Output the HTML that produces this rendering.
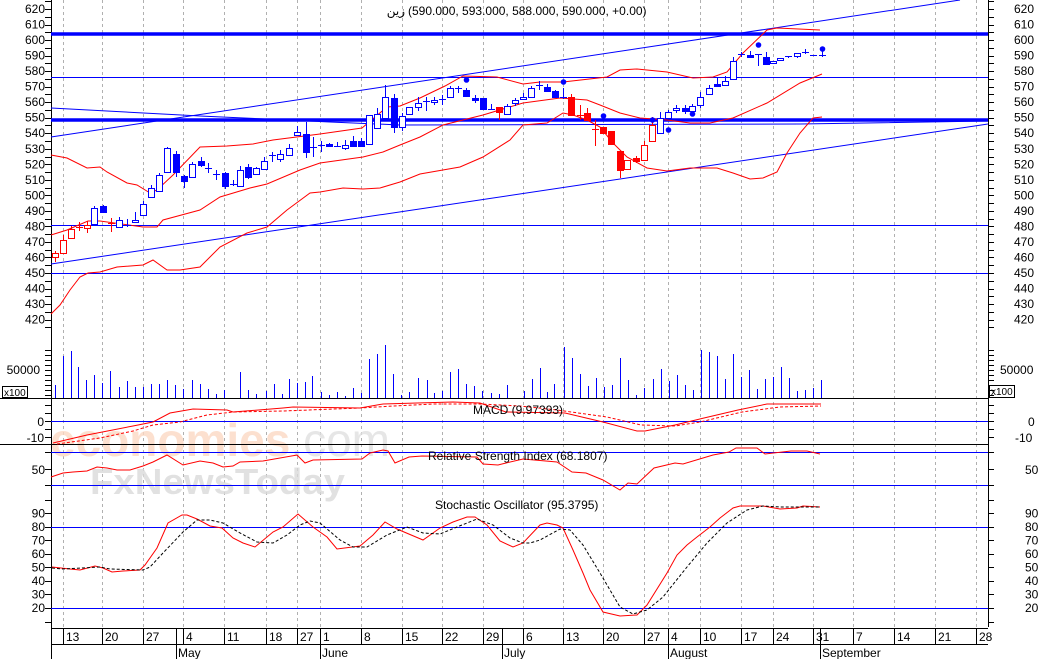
<!DOCTYPE html>
<html><head><meta charset="utf-8">
<style>
html,body{margin:0;padding:0;background:#fff;width:1040px;height:659px;overflow:hidden}
svg{display:block}
text{font-family:"Liberation Sans","DejaVu Sans",sans-serif;font-size:12px;fill:#000}
</style></head>
<body>
<svg id="c" width="1040" height="659" xmlns="http://www.w3.org/2000/svg">
<rect width="1040" height="659" fill="#fff"/>
<g id="grid"></g>
<!-- watermark -->
<text x="50" y="456" textLength="340" lengthAdjust="spacingAndGlyphs" style="font-size:46px;font-weight:bold;fill:#fcd9c4;opacity:0.8">economies<tspan style="fill:#e0e0e0;font-weight:normal">.com</tspan></text>
<text x="90" y="494" textLength="255" lengthAdjust="spacingAndGlyphs" style="font-size:36px;font-weight:bold;fill:#dadada;opacity:0.8">FxNewsToday</text>
<g id="main"></g>
</svg>
<script>
var NS="http://www.w3.org/2000/svg";
var M=document.getElementById('main'),G=document.getElementById('grid');
function el(t,a,p){var e=document.createElementNS(NS,t);for(var k in a)e.setAttribute(k,a[k]);(p||M).appendChild(e);return e;}
function ln(x1,y1,x2,y2,c,w,d,p){var a={x1:x1,y1:y1,x2:x2,y2:y2,stroke:c,'stroke-width':w||1};if(d)a['stroke-dasharray']=d;return el('line',a,p);}
function pl(pts,c,w,d){var a={points:pts.map(function(p){return p.join(',')}).join(' '),fill:'none',stroke:c,'stroke-width':w||1};if(d)a['stroke-dasharray']=d;return el('polyline',a);}
function tx(x,y,s,anchor,extra){var a={x:x,y:y};if(anchor)a['text-anchor']=anchor;for(var k in extra)a[k]=extra[k];var e=el('text',a);e.textContent=s;return e;}
var L=51,R=988;
[63,102,143,183,224,266,297,320,361,402,442,483,523,563,603,644,668,700,741,773,813,853,894,935,976].forEach(function(x){ln(x+.5,0,x+.5,627,'#b0b0b0',1,'3,3',G);});
ln(L+.5,0,L+.5,659,'#000');ln(R+.5,0,R+.5,627,'#000');
ln(0,398.5,R,398.5,'#000');ln(0,444.5,R,444.5,'#000');
ln(L,628.5,R,628.5,'#000');ln(L,644.5,R,644.5,'#000');
function py(p){return 273-(p-450)*1.553;}
for(var p=420;p<=620;p+=10){var y=py(p);tx(45,y+4,p,'end');tx(1014,y+4,p);}
for(var p=415;p<=625;p+=5){var y=Math.round(py(p))+.5;ln(45,y,L,y,'#000');ln(R,y,994,y,'#000');}
ln(L,34,R,34,'#0000ff',3.5);ln(L,120,R,120,'#0000ff',3.5);
ln(L,77.5,R,77.5,'#0000ff');ln(L,225.5,R,225.5,'#0000ff');ln(L,273.5,R,273.5,'#0000ff');
pl([[51,108],[200,116],[330,122],[400,125],[800,124],[988,121]],'#0000ff');
ln(51,137,960,0,'#0000ff');ln(51,264,988,124,'#0000ff');
pl([[51,155],[67,158],[87,168],[100,167],[107,172],[127,183],[137,185],[150,193],[157,190],[173,175],[200,147],[227,146],[253,144],[273,140],[320,134],[362,128],[387,107],[400,106],[420,98],[445,86],[463,76],[497,77],[523,84],[540,82],[563,82],[607,77],[620,70],[637,69],[667,72],[693,78],[713,77],[727,72],[743,53],[767,30],[777,28],[820,30]],'#ff0000');
pl([[51,235],[67,230],[88,221],[100,221],[143,227],[157,227],[163,220],[200,210],[220,197],[250,188],[267,184],[300,170],[320,163],[363,157],[383,152],[400,145],[420,137],[443,125],[483,115],[523,103],[560,98],[587,100],[600,105],[620,113],[640,118],[667,120],[690,123],[710,123],[733,118],[767,103],[800,83],[822,74]],'#ff0000');
pl([[51,314],[60,305],[70,290],[80,277],[88,273],[100,272],[117,267],[143,265],[153,260],[167,270],[180,270],[200,267],[220,247],[247,233],[267,227],[287,210],[310,193],[320,192],[343,188],[363,189],[380,188],[400,182],[420,174],[460,167],[483,157],[510,140],[523,125],[547,123],[563,113],[573,115],[587,120],[600,127],[613,143],[627,157],[647,168],[667,171],[690,168],[717,168],[733,173],[750,179],[763,178],[777,172],[787,153],[800,133],[813,118],[822,117]],'#ff0000');
var C=[[55,253,257,251,262,'rh'],[63,240,253,235,253,'rh'],[71,229,238,226,238,'rh'],[79,227,227,222,231,'r+'],[87,225,228,221,233,'rh'],[94,208,224,206,224,'bh'],[103,206,212,205,213,'bf'],[111,223,223,218,232,'r+'],[119,220,227,217,227,'bh'],[127,225,225,219,227,'b+'],[135,220,222,212,222,'bh'],[143,204,215,201,215,'bh'],[151,188,197,185,197,'bh'],[159,175,191,173,191,'bh'],[167,148,172,147,172,'bh'],[176,154,172,151,177,'bf'],[184,176,181,175,188,'bf'],[192,164,177,162,177,'bh'],[201,161,165,157,167,'bf'],[208,168,168,163,173,'b+'],[216,174,174,170,180,'b+'],[225,173,186,172,189,'bf'],[233,184,184,180,186,'b+'],[240,170,186,166,186,'bh'],[248,167,177,164,179,'bf'],[256,168,174,167,174,'bh'],[264,161,169,157,169,'bh'],[272,155,155,152,162,'b+'],[280,154,159,150,162,'bh'],[289,148,155,144,155,'bh'],[297,132,135,126,135,'bh'],[306,134,152,122,158,'bf'],[313,147,147,137,157,'b+'],[321,145,148,141,152,'b+'],[329,144,146,143,146,'bf'],[337,146,146,142,146,'b+'],[345,145,148,140,150,'bh'],[353,141,146,136,146,'bf'],[361,141,146,138,146,'bf'],[369,115,144,115,144,'bh'],[377,114,128,108,128,'bh'],[385,97,118,85,118,'bh'],[394,98,127,94,133,'bf'],[402,116,127,113,131,'bh'],[409,107,114,107,114,'bh'],[418,103,107,97,111,'bh'],[426,101,101,97,111,'b+'],[434,100,102,97,105,'bh'],[442,99,99,95,105,'b+'],[450,88,97,86,97,'bh'],[458,88,88,86,93,'b+'],[466,90,96,88,96,'bf'],[475,98,99,95,103,'bf'],[483,98,109,98,109,'bf'],[491,109,109,104,109,'b+'],[499,107,112,107,120,'rf'],[507,106,114,104,114,'bh'],[515,100,103,98,106,'bh'],[523,97,99,93,99,'bh'],[531,88,97,86,97,'bh'],[539,85,85,81,90,'b+'],[547,87,91,84,91,'bf'],[555,91,97,90,97,'bf'],[563,97,97,88,99,'b+'],[571,97,115,94,115,'rf'],[580,115,115,105,120,'r+'],[587,113,120,108,120,'rf'],[595,129,129,120,146,'r+'],[603,127,133,127,133,'rf'],[611,131,144,131,144,'rf'],[620,151,170,151,178,'rf'],[627,160,169,160,169,'rh'],[636,158,161,156,163,'rf'],[644,145,160,141,160,'rh'],[652,125,141,117,141,'rh'],[660,118,133,112,133,'bh'],[668,112,118,110,118,'bh'],[676,108,110,105,113,'bh'],[685,108,111,105,114,'bf'],[692,106,111,104,111,'bh'],[700,97,105,92,108,'bh'],[709,88,94,85,94,'bh'],[717,84,85,77,85,'bf'],[725,81,85,76,85,'bh'],[733,61,79,57,79,'bh'],[741,54,54,52,57,'b+'],[750,55,57,51,57,'bf'],[758,54,54,54,66,'b+'],[766,57,64,52,64,'bf'],[773,61,63,61,63,'bh'],[780,58,60,58,60,'bh'],[788,56,56,56,58,'b+'],[797,53,56,53,58,'bh'],[805,52,52,49,54,'b+'],[813,55,55,55,56,'b+'],[822,55,55,51,57,'b+']];
C.forEach(function(c){var x=c[0],col=c[5][0]=='r'?'#ff0000':'#0000ff',t=c[5][1];
ln(x+.5,c[3],x+.5,c[4],col);
if(t=='+'){ln(x-3,c[1]+.5,x+4,c[1]+.5,col);}
else{var h=Math.max(c[2]-c[1],2);el('rect',{x:x-2.5,y:c[1]+.5,width:6,height:h,fill:t=='f'?col:'#fff',stroke:col,'stroke-width':1});}
});
[[466,80],[563,82],[603,116],[652,120],[668,130],[692,114],[758,45],[822,49]].forEach(function(d){el('circle',{cx:d[0]+.5,cy:d[1],r:2.8,fill:'#0000ff'});});
// title
tx(405,15,'زين','end',{'font-family':'"Liberation Sans","DejaVu Sans",sans-serif'});
tx(408,15,'(590.000, 593.000, 588.000, 590.000, +0.00)');
var V=[[55,385],[63,356],[71,351],[78,367],[86,380],[94,375],[102,383],[110,371],[119,387],[127,381],[135,387],[143,387],[151,384],[159,384],[167,380],[175,385],[183,389],[192,380],[200,384],[208,389],[216,394],[224,390],[240,372],[248,390],[256,394],[266,391],[274,384],[282,394],[289,379],[297,383],[305,382],[312,376],[321,392],[329,395],[337,392],[345,396],[353,388],[361,393],[369,359],[377,354],[385,345],[393,374],[401,395],[409,392],[418,378],[427,380],[434,393],[442,391],[450,372],[458,369],[466,384],[474,386],[482,391],[491,393],[499,394],[507,385],[524,391],[532,379],[540,368],[547,392],[554,384],[564,347],[572,358],[580,374],[588,386],[596,378],[604,387],[612,385],[620,358],[628,380],[636,395],[644,388],[653,379],[661,369],[669,381],[677,375],[685,385],[693,390],[701,350],[709,352],[717,356],[725,379],[733,354],[741,377],[749,370],[757,389],[765,379],[773,377],[781,367],[789,378],[797,391],[805,390],[813,388],[821,380]];
V.forEach(function(v){ln(v[0]+.5,v[1],v[0]+.5,398,'#0000ff');});
tx(40,374,'50000','end');tx(1000,374,'50000');
el('rect',{x:2.5,y:386.5,width:25,height:11,fill:'#fff',stroke:'#000'});tx(4,396,'x100',null,{style:'font-size:10px'});
el('rect',{x:989.5,y:385.5,width:25,height:12,fill:'#fff',stroke:'#000'});tx(991,395,'x100',null,{style:'font-size:10px'});
for(var y=350;y<=398;y+=5){ln(45,y+.5,L,y+.5,'#000');ln(R,y+.5,994,y+.5,'#000');}
ln(L,421.5,R,421.5,'#0000ff');
tx(44,426,'0','end');tx(44,442,'-10','end');tx(1028,426,'0');tx(1015,442,'-10');
[405,413,421,429,437].forEach(function(y){ln(45,y+.5,L,y+.5,'#000');ln(R,y+.5,994,y+.5,'#000');});
pl([[53,443],[87,435],[133,426],[153,422],[170,413],[193,409],[227,410],[233,412],[283,408],[293,407],[360,408],[383,404],[417,403],[453,402],[480,403],[506,412],[565,413],[603,422],[637,431],[645,431],[675,425],[704,418],[738,410],[767,404],[821,404]],'#ff0000');
pl([[57,444],[100,438],[133,431],[153,425],[180,422],[207,415],[233,412],[283,411],[360,408],[393,406],[433,404],[480,404],[520,406],[557,410],[607,417],[641,425],[675,426],[700,422],[742,412],[780,407],[821,406]],'#ff0000',1,'3,2');
tx(473,414,'MACD (9.97393)');
ln(L,452.5,R,452.5,'#0000ff');ln(L,485.5,R,485.5,'#0000ff');
tx(45,474,'50','end');tx(1025,474,'50');
[452,469,485].forEach(function(y){ln(45,y+.5,L,y+.5,'#000');ln(R,y+.5,994,y+.5,'#000');});
pl([[51,477],[63,473],[73,472],[87,471],[97,467],[107,468],[117,470],[130,470],[143,466],[153,462],[167,455],[183,465],[200,461],[213,463],[223,467],[233,466],[240,462],[263,461],[297,455],[305,463],[313,460],[362,459],[370,453],[383,450],[388,451],[395,463],[409,457],[422,456],[477,457],[483,464],[498,465],[506,463],[523,459],[557,462],[572,472],[586,473],[603,480],[620,490],[628,483],[637,484],[654,468],[675,463],[683,464],[713,455],[729,452],[736,448],[757,448],[765,454],[791,451],[807,451],[820,454]],'#ff0000');
tx(428,460,'Relative Strength Index (68.1807)');
function sy(v){return 608-(v-20)*1.353;}
ln(L,527.5,R,527.5,'#0000ff');ln(L,608.5,R,608.5,'#0000ff');
for(var v=20;v<=90;v+=10){var y=sy(v);tx(45,y+4,v,'end');tx(1025,y+4,v);}
for(var v=10;v<=100;v+=10){var y=Math.round(sy(v))+.5;ln(45,y,L,y,'#000');ln(R,y,994,y,'#000');}
pl([[52,567],[70,569],[80,570],[95,566],[103,568],[112,572],[123,571],[140,570],[145,565],[157,548],[168,523],[182,515],[187,515],[197,519],[210,526],[222,528],[233,538],[243,543],[255,547],[273,532],[283,527],[298,514],[313,527],[327,537],[337,549],[360,546],[373,535],[385,522],[397,529],[423,540],[440,528],[453,522],[467,517],[475,517],[487,525],[500,541],[513,547],[523,543],[540,525],[547,523],[557,525],[563,528],[573,550],[583,573],[590,590],[603,612],[620,616],[637,615],[647,605],[667,573],[677,555],[687,545],[697,537],[710,527],[720,518],[733,508],[740,506],[763,506],[780,509],[797,508],[803,506],[820,507]],'#ff0000');
pl([[52,568],[63,569],[100,567],[110,569],[143,570],[150,567],[163,553],[183,532],[197,520],[210,520],[223,523],[240,533],[257,542],[273,543],[287,535],[300,525],[310,521],[320,523],[340,540],[353,547],[367,547],[387,535],[407,527],[423,533],[440,534],[457,527],[477,519],[493,525],[510,538],[523,543],[530,543],[540,540],[560,529],[570,530],[583,545],[600,573],[620,607],[633,614],[647,610],[663,597],[687,567],[707,543],[727,523],[747,510],[763,506],[780,507],[803,507],[820,507]],'#000',1,'3,2');
tx(435,509,'Stochastic Oscillator (95.3795)');
var D=[['13',63],['20',102],['27',143],['4',183],['11',224],['18',266],['27',297],['1',320],['8',361],['15',402],['22',442],['29',483],['6',523],['13',563],['20',603],['27',644],['4',668],['10',700],['17',741],['24',773],['31',813],['7',853],['14',894],['21',935],['28',976]];
D.forEach(function(d){ln(d[1]+.5,628,d[1]+.5,644,'#000');tx(d[1]+3,641,d[0]);});
[['May',176],['June',320],['July',502],['August',668],['September',820]].forEach(function(m){ln(m[1]+.5,628,m[1]+.5,659,'#000');tx(m[1]+2,657,m[0]);});
</script>
</body></html>
